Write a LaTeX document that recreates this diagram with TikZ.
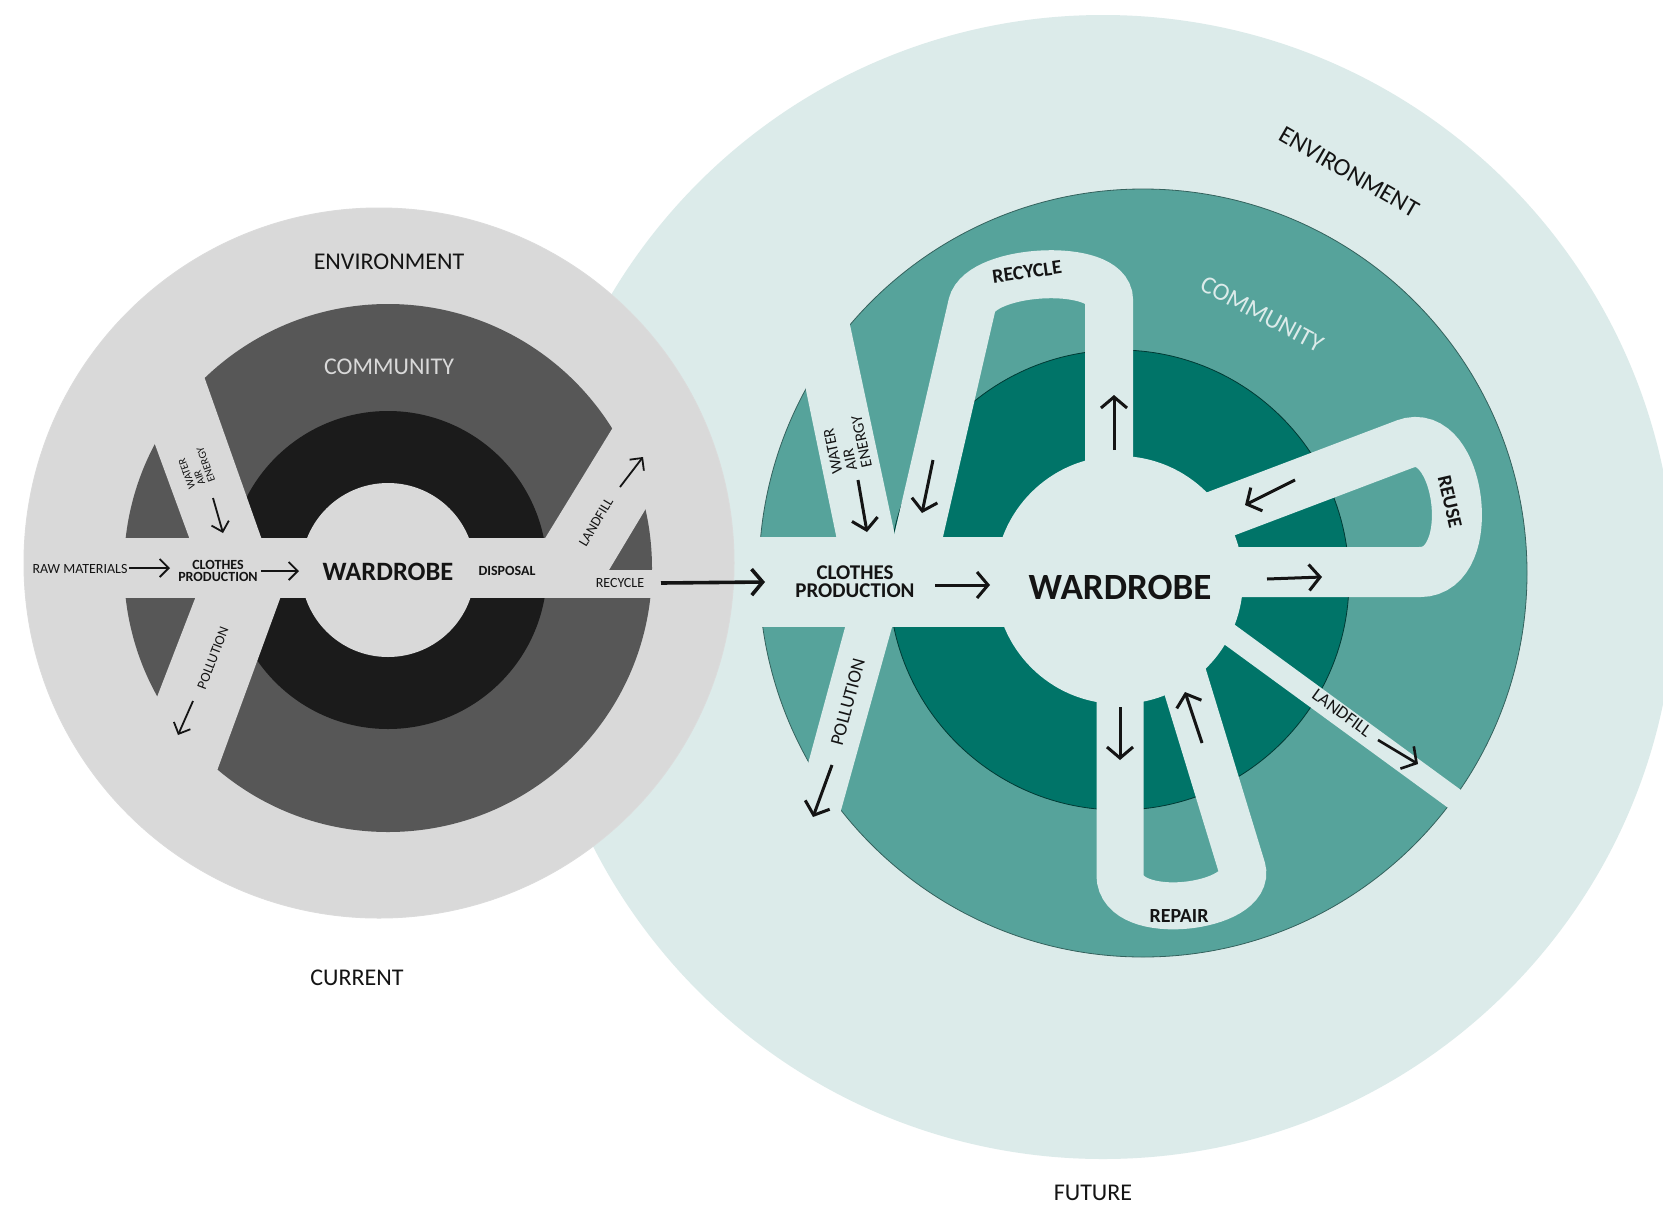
\documentclass[tikz,border=0pt]{standalone}
\usepackage{fontspec}
\setmainfont{Carlito}
\usetikzlibrary{arrows.meta,positioning}

\definecolor{envgrey}{RGB}{217,217,217}
\definecolor{commgrey}{RGB}{87,87,87}
\definecolor{coregrey}{RGB}{27,27,27}
\definecolor{envteal}{RGB}{220,235,234}
\definecolor{commteal}{RGB}{86,163,155}
\definecolor{coreteal}{RGB}{0,116,104}
\definecolor{ink}{RGB}{20,20,20}

\tikzset{
  lab/.style={text=ink, inner sep=0pt, align=center},
  ringlabel/.style={lab, font=\fontsize{24}{28}\selectfont},
  smalllabel/.style={lab, font=\fontsize{14}{12}\selectfont},
  boldlabel/.style={lab, font=\fontsize{14}{12}\selectfont\bfseries},
  tinylabel/.style={lab, align=left, font=\fontsize{11}{10.5}\selectfont},
  looplabel/.style={lab, font=\fontsize{20}{22}\selectfont\bfseries},
  flowlabel/.style={lab, font=\fontsize{19}{20}\selectfont},
  flowband/.style={draw=envteal, line width=#1},
  arr/.style={draw=ink, line width=1.8pt, -{Straight Barb[length=9pt,width=18pt]}},
  bigarr/.style={draw=ink, line width=3pt, -{Straight Barb[length=11pt,width=26pt]}},
}

\begin{document}
\begin{tikzpicture}[x=1pt,y=-1pt]
\useasboundingbox (0,0) rectangle (1663,1208);
\fill[white] (0,0) rectangle (1663,1208);

% future environment
\fill[envteal] (1103,587) circle[radius=572pt];

% current circles
\begin{scope}
  \clip (379,563) circle[radius=355pt];
  \fill[envgrey] (379,563) circle[radius=355pt];
  \fill[commgrey] (388,568) circle[radius=264pt];
  \fill[coregrey] (388,570) circle[radius=159pt];
  \fill[envgrey] (388,570) circle[radius=87pt];
  % flows
  \fill[envgrey] (100,538) rectangle (608,598);
  \fill[envgrey] (600,570) rectangle (740,598);
  \fill[envgrey] (102,300) -- (177,300) -- (262,540) -- (190,540) -- cycle;
  \fill[envgrey] (196,596) -- (281,596) -- (188,850) -- (98,850) -- cycle;
  \fill[envgrey] (544,540) -- (642,380) -- (723,380) -- (609,570) -- (560,570) -- cycle;
\end{scope}
\draw[black!14, line width=1pt] (379,563) circle[radius=355pt];

% future circles
\filldraw[fill=commteal, draw=commteal!60!black, line width=0.8pt] (1143,573) circle[radius=384pt];
\filldraw[fill=coreteal, draw=coreteal!50!black, line width=0.8pt] (1119,580) circle[radius=230pt];
\fill[envteal] (1119,580) circle[radius=124pt];
% flows
\fill[envteal] (735,537) rectangle (1119,627);
\fill[envteal] (777,250) -- (834,250) -- (897,545) -- (838,545) -- cycle;
\fill[envteal] (847,620) -- (894,620) -- (816,900) -- (771,900) -- cycle;
\draw[flowband=48pt] (913,560) -- (972,305) .. controls (981,268) and (1109,262) .. (1109,300) -- (1109,520);
\draw[flowband=50pt] (1186,527) -- (1405,444) .. controls (1461,423) and (1480,572) .. (1420,572) -- (1150,572);
\draw[flowband=22pt] (1200,613) -- (1482,819);
\draw[flowband=47pt] (1120,680) -- (1120,875) .. controls (1120,925) and (1254,908) .. (1242,868) -- (1180,665);

% nodes: current
\node[ringlabel] (envL) at (389,262) {ENVIRONMENT};
\node[ringlabel, text=envgrey] (commL) at (389,367) {COMMUNITY};
\node[lab, font=\fontsize{26.5}{30}\selectfont\bfseries] (wardL) at (388,572) {WARDROBE};
\node[boldlabel] (dispL) at (507,571) {DISPOSAL};
\node[smalllabel] (rawL) at (80,569) {RAW MATERIALS};
\node[boldlabel] (cprodL) at (218,571) {CLOTHES\\PRODUCTION};
\node[smalllabel, rotate=59] (landL) at (596,522) {LANDFILL};
\node[smalllabel] (recL) at (620,583) {RECYCLE};
\node[tinylabel, rotate=110] (waterL) at (196,468) {WATER\\AIR\\ENERGY};
\node[smalllabel, rotate=69] (pollL) at (213,658) {POLLUTION};
\node[ringlabel] (current) at (357,978) {CURRENT};

% nodes: future
\node[ringlabel, font=\fontsize{25}{28}\selectfont, rotate=-30] (envR) at (1349,172) {ENVIRONMENT};
\node[ringlabel, font=\fontsize{25}{28}\selectfont, text=envteal, rotate=-28] (commR) at (1262,314) {COMMUNITY};
\node[lab, font=\fontsize{37}{40}\selectfont\bfseries] (wardR) at (1120,587) {WARDROBE};
\node[lab, font=\fontsize{21}{18}\selectfont\bfseries] (cprodR) at (855,582) {CLOTHES\\PRODUCTION};
\node[looplabel, rotate=8] (recR) at (1027,272) {RECYCLE};
\node[looplabel, rotate=-77] (reuseR) at (1450,502) {REUSE};
\node[looplabel] (repairR) at (1179,916) {REPAIR};
\node[flowlabel, font=\fontsize{18}{20}\selectfont, rotate=-36] (landR) at (1342,713) {LANDFILL};
\node[flowlabel, rotate=75] (pollR) at (848,702) {POLLUTION};
\node[tinylabel, font=\fontsize{16}{15}\selectfont, rotate=102] (waterR) at (847,445) {WATER\\AIR\\ENERGY};
\node[ringlabel] (future) at (1093,1193) {FUTURE};

% arrow ends
\coordinate (rawS) at (129,568);   \coordinate (rawE) at (170,568);
\coordinate (mkS) at (261,571);    \coordinate (mkE) at (299,571);
\coordinate (useS) at (213,498);   \coordinate (useE) at (223,533);
\coordinate (dirtS) at (193,701);  \coordinate (dirtE) at (178,735);
\coordinate (dumpS) at (620,487);  \coordinate (dumpE) at (643,457);
\coordinate (nextS) at (661,583);  \coordinate (nextE) at (765,582);
\coordinate (mkRS) at (935,585);   \coordinate (mkRE) at (990,585);
\coordinate (outS) at (1267,579);  \coordinate (outE) at (1322,577);
\coordinate (backS) at (1295,480); \coordinate (backE) at (1245,505);
\coordinate (upS) at (1114,450);   \coordinate (upE) at (1114,395);
\coordinate (downS) at (933,460);  \coordinate (downE) at (922,513);
\coordinate (useRS) at (858,480);  \coordinate (useRE) at (867,532);
\coordinate (dirtRS) at (832,765); \coordinate (dirtRE) at (813,817);
\coordinate (fixS) at (1120,707);  \coordinate (fixE) at (1120,760);
\coordinate (fixBS) at (1202,743); \coordinate (fixBE) at (1185,692);
\coordinate (dumpRS) at (1378,740);\coordinate (dumpRE) at (1418,764);

% edges
\draw[arr] (rawS) -- (rawE);
\draw[arr] (mkS) -- (mkE);
\draw[arr] (useS) -- (useE);
\draw[arr] (dirtS) -- (dirtE);
\draw[arr] (dumpS) -- (dumpE);
\draw[bigarr, line width=3.6pt] (nextS) -- (nextE);
\draw[bigarr] (mkRS) -- (mkRE);
\draw[bigarr] (outS) -- (outE);
\draw[bigarr] (backS) -- (backE);
\draw[bigarr] (upS) -- (upE);
\draw[bigarr] (downS) -- (downE);
\draw[bigarr] (useRS) -- (useRE);
\draw[bigarr] (dirtRS) -- (dirtRE);
\draw[bigarr] (fixS) -- (fixE);
\draw[bigarr] (fixBS) -- (fixBE);
\draw[bigarr, line width=2.6pt] (dumpRS) -- (dumpRE);
\end{tikzpicture}
\end{document}
